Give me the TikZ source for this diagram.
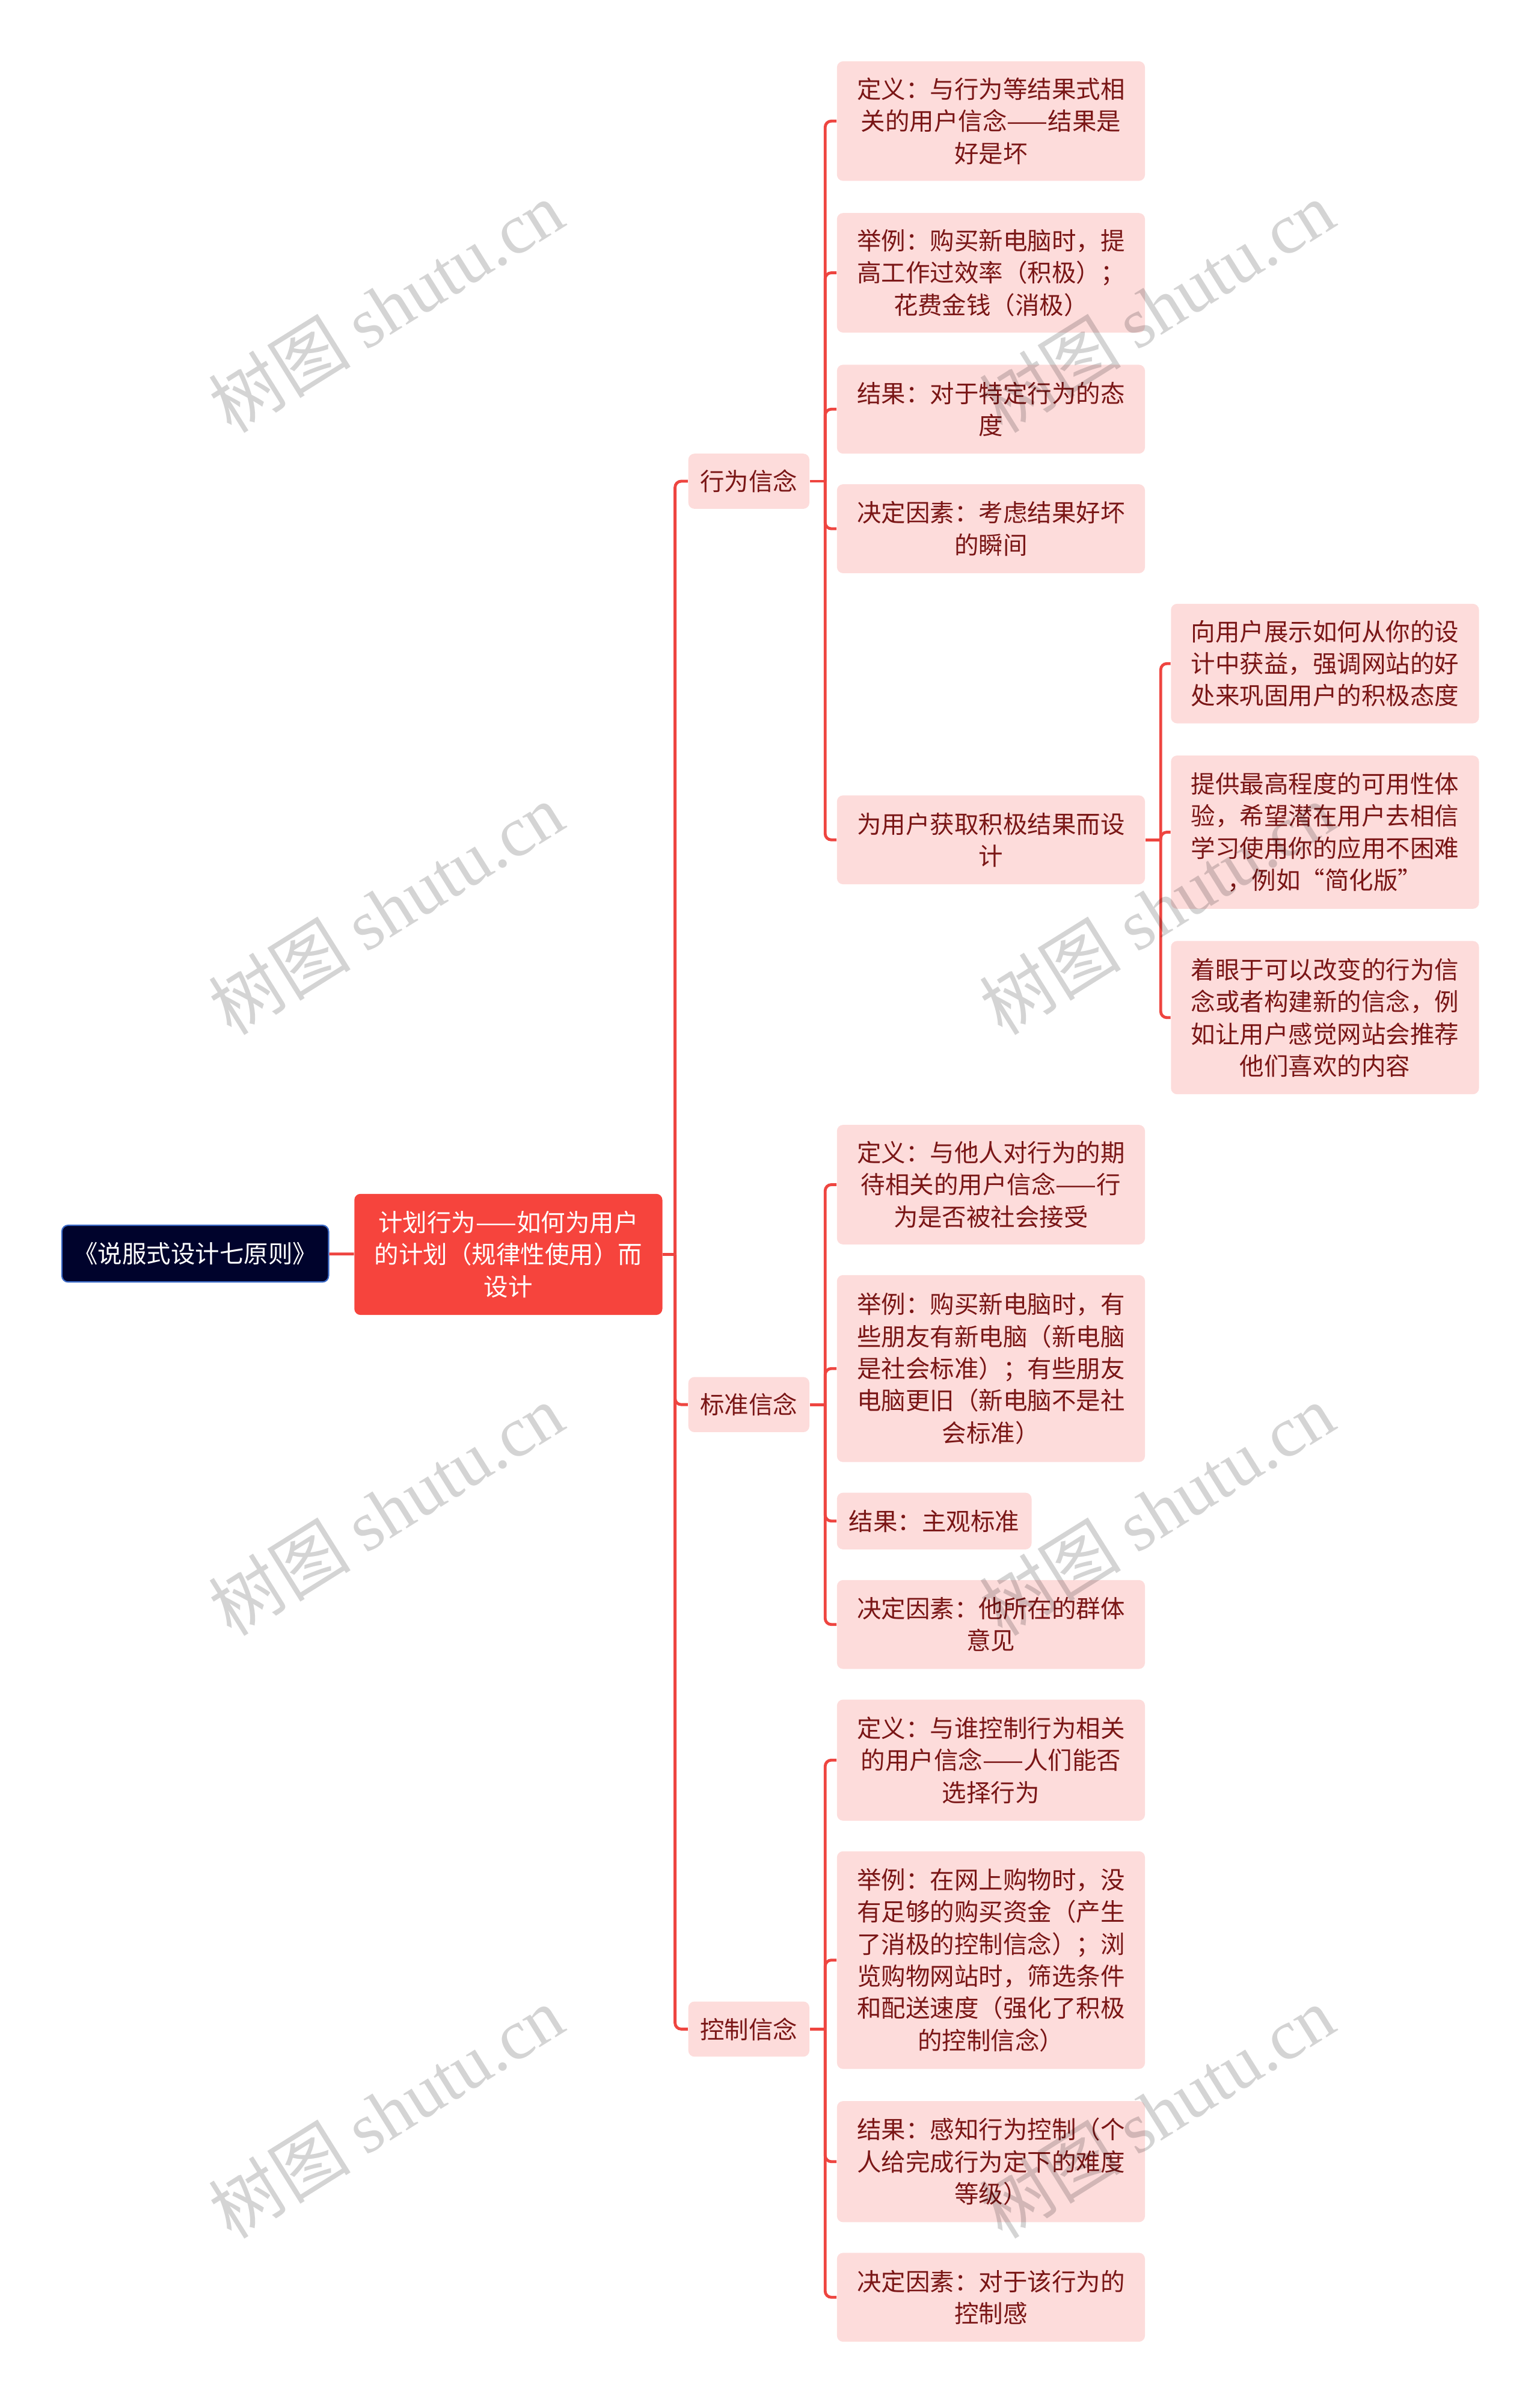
\documentclass[tikz,border=0pt]{standalone}
\usepackage{fontspec}
\setmainfont{Noto Sans CJK SC}
\newfontfamily\markfont{Liberation Serif}
\usepackage{tikz}
\usetikzlibrary{positioning}
\definecolor{linkRed}{HTML}{EE4540}
\definecolor{leafPink}{HTML}{FDDCDB}
\definecolor{leafText}{HTML}{7A1616}
\definecolor{rootBlue}{HTML}{00032C}
\definecolor{rootEdge}{HTML}{3C6BC8}
\definecolor{planRed}{HTML}{F6443D}
\newcommand{\boxfont}{\fontsize{11.3}{14.9}\selectfont}
\tikzstyle{rootNode} = [rectangle, rounded corners=0.1cm, fill=rootBlue, draw=rootEdge, line width=0.6pt, text=white, font=\boxfont, minimum width=4.35cm, minimum height=0.925cm, anchor=west]
\tikzstyle{planNode} = [rectangle, rounded corners=0.1cm, fill=planRed, text=white, font=\boxfont, align=center, minimum width=5.025cm, minimum height=1.975cm, anchor=west]
\tikzstyle{beliefNode} = [rectangle, rounded corners=0.1cm, fill=leafPink, text=leafText, font=\boxfont, minimum width=1.975cm, minimum height=0.9cm, anchor=west]
\tikzstyle{leafNode} = [beliefNode, align=center, minimum width=5.025cm, inner xsep=0.1cm]
\tikzstyle{twoLine} = [minimum height=1.45cm]
\tikzstyle{threeLine} = [minimum height=1.95cm]
\tikzstyle{fourLine} = [minimum height=2.5cm]
\tikzstyle{fiveLine} = [minimum height=3.05cm]
\tikzstyle{sixLine} = [minimum height=3.55cm]
\tikzstyle{link} = [draw=linkRed, line width=1.35pt]
\tikzstyle{elbowLink} = [link, rounded corners=0.1cm]
\tikzstyle{watermark} = [text=black, text opacity=0.17, rotate=32, font=\fontsize{33}{37}\selectfont]

\begin{document}
\begin{tikzpicture}[x=0.025cm, y=-0.025cm]
    \useasboundingbox (0,0) rectangle (1005,1568);
    \node (root) [rootNode] at (40,818) {《说服式设计七原则》};
    \node (plan) [planNode] at (231,818.5) {计划行为——如何为用户\\的计划（规律性使用）而\\设计};
    \node (b1) [beliefNode] at (449,314) {行为信念};
    \node (b2) [beliefNode] at (449,916.5) {标准信念};
    \node (b3) [beliefNode] at (449,1324) {控制信念};
    % 行为信念
    \node (b1a) [leafNode, threeLine] at (546,79) {定义：与行为等结果式相\\关的用户信念——结果是\\好是坏};
    \node (b1b) [leafNode, threeLine] at (546,178) {举例：购买新电脑时，提\\高工作过效率（积极）；\\花费金钱（消极）};
    \node (b1c) [leafNode, twoLine] at (546,267) {结果：对于特定行为的态\\度};
    \node (b1d) [leafNode, twoLine] at (546,345) {决定因素：考虑结果好坏\\的瞬间};
    \node (b1e) [leafNode, twoLine] at (546,548) {为用户获取积极结果而设\\计};
    \node (e1) [leafNode, threeLine] at (764,433) {向用户展示如何从你的设\\计中获益，强调网站的好\\处来巩固用户的积极态度};
    \node (e2) [leafNode, fourLine] at (764,543) {提供最高程度的可用性体\\验，希望潜在用户去相信\\学习使用你的应用不困难\\，例如“简化版”};
    \node (e3) [leafNode, fourLine] at (764,664) {着眼于可以改变的行为信\\念或者构建新的信念，例\\如让用户感觉网站会推荐\\他们喜欢的内容};
    % 标准信念
    \node (b2a) [leafNode, threeLine] at (546,773) {定义：与他人对行为的期\\待相关的用户信念——行\\为是否被社会接受};
    \node (b2b) [leafNode, fiveLine] at (546,893) {举例：购买新电脑时，有\\些朋友有新电脑（新电脑\\是社会标准）；有些朋友\\电脑更旧（新电脑不是社\\会标准）};
    \node (b2c) [beliefNode, minimum width=3.175cm, minimum height=0.925cm] at (546,992.5) {结果：主观标准};
    \node (b2d) [leafNode, twoLine] at (546,1060) {决定因素：他所在的群体\\意见};
    % 控制信念
    \node (b3a) [leafNode, threeLine, minimum height=1.975cm] at (546,1148.5) {定义：与谁控制行为相关\\的用户信念——人们能否\\选择行为};
    \node (b3b) [leafNode, sixLine] at (546,1279) {举例：在网上购物时，没\\有足够的购买资金（产生\\了消极的控制信念）；浏\\览购物网站时，筛选条件\\和配送速度（强化了积极\\的控制信念）};
    \node (b3c) [leafNode, threeLine, minimum height=1.975cm] at (546,1410.5) {结果：感知行为控制（个\\人给完成行为定下的难度\\等级）};
    \node (b3d) [leafNode, twoLine] at (546,1499) {决定因素：对于该行为的\\控制感};
    % connectors
    \draw [link] (root) -- (plan);
    \draw [link] (plan.east) -- ++(8,0) coordinate (j0);
    \foreach \kid in {b1,b2,b3}
        \draw [elbowLink] (j0) |- (\kid.west);
    \draw [link] (b1.east) -- ++(10,0) coordinate (j1);
    \foreach \kid in {b1a,b1b,b1c,b1d,b1e}
        \draw [elbowLink] (j1) |- (\kid.west);
    \draw [link] (b1e.east) -- ++(10,0) coordinate (j4);
    \foreach \kid in {e1,e2,e3}
        \draw [elbowLink] (j4) |- (\kid.west);
    \draw [link] (b2.east) -- ++(10,0) coordinate (j2);
    \foreach \kid in {b2a,b2b,b2c,b2d}
        \draw [elbowLink] (j2) |- (\kid.west);
    \draw [link] (b3.east) -- ++(10,0) coordinate (j3);
    \foreach \kid in {b3a,b3b,b3c,b3d}
        \draw [elbowLink] (j3) |- (\kid.west);
    % watermark
    \foreach \wx in {252,755}
        \foreach \wy in {200,593,985,1378}
            \node [watermark] at (\wx,\wy) {树图 {\markfont shutu.cn}};
\end{tikzpicture}
\end{document}
